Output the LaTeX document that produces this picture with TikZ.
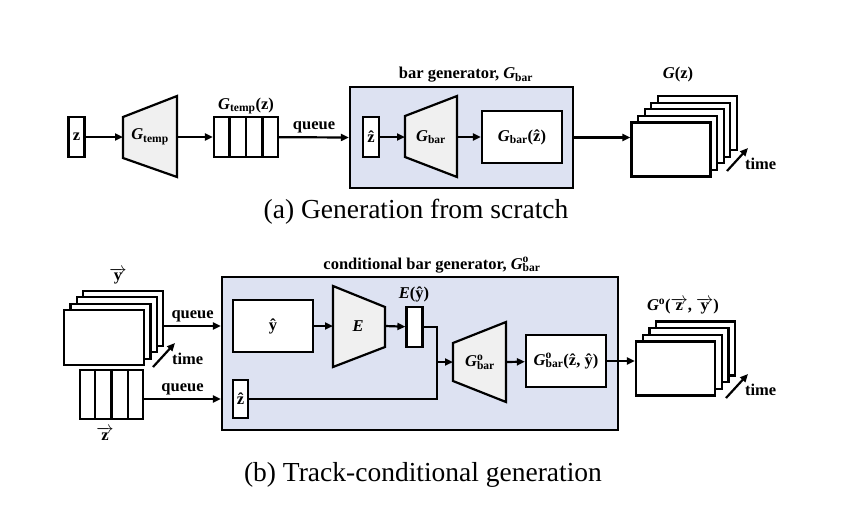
\documentclass[tikz,border=0pt]{standalone}
\usepackage{fontspec}
\setmainfont{Liberation Serif}
\usetikzlibrary{calc, arrows.meta}

\definecolor{genfill}{RGB}{221,226,242}
\definecolor{trapfill}{RGB}{240,240,240}

\newcommand{\Gsym}{\textbf{\textit{G}}}
\newcommand{\Gbar}{\Gsym\textsubscript{\textbf{bar}}}
\newcommand{\Gobar}{\Gsym\rlap{\textsuperscript{\textbf{o}}}\textsubscript{\textbf{bar}}}
\newcommand{\vecz}{$\overrightarrow{\mbox{\textbf{z}}}$}
\newcommand{\vecy}{$\overrightarrow{\mbox{\textbf{y}}}$}

\begin{document}
\begin{tikzpicture}
  [x=1pt, y=-1pt,
    >={Triangle[length=8pt,width=7pt]},
    line width=2.2pt,
    every node/.style={font=\fontsize{16.5}{19}\selectfont\bfseries}]

  \tikzset{
    latent/.style={
      rectangle, draw=black, fill=white,
      inner sep=0pt, minimum width=16pt, minimum height=40pt,
    },
    frame/.style={
      rectangle, draw=black, fill=white,
      inner sep=0pt, minimum width=79pt, minimum height=54pt,
    },
    genbox/.style={
      rectangle, draw=black, fill=genfill, inner sep=0pt,
    },
    trap/.style={draw=black, fill=trapfill, line join=miter},
    puis/.style={->, draw},
    timelabel/.style={anchor=west, inner sep=0pt, xshift=-4pt, yshift=-16pt},
    caption/.style={font=\fontsize{27.5}{32}\selectfont},
  }

  \useasboundingbox (0,0) rectangle (860,515);

  %% (a) generation from scratch
  \node[latent] (z) at (76.5,137) {z};

  \draw[trap] (123,117) -- (177,96) -- (177,177) -- (123,158) -- cycle;
  \node (gtemp) at (150,137) {\Gsym\textsubscript{\textbf{temp}}};
  \coordinate (gtemp-w) at (123,137);
  \coordinate (gtemp-e) at (177,137);

  \node[rectangle, draw, inner sep=0pt, minimum width=64pt, minimum height=40pt]
    (tq) at (246,137) {};
  \foreach \i in {1,2,3}
    \draw ($(tq.north west)!\i/4!(tq.north east)$) -- ($(tq.south west)!\i/4!(tq.south east)$);
  \node at (246,106) {\Gsym\textsubscript{\textbf{temp}}(z)};

  \node[genbox, minimum width=223pt, minimum height=101pt] (gen) at (461.5,137.5) {};
  \node at (466,75) {bar generator, \Gbar};

  \node[latent] (zhat) at (371,137) {\^{z}};
  \draw[trap] (405,116) -- (457,96) -- (457,177) -- (405,157) -- cycle;
  \node (gbar) at (431,137) {\Gbar};
  \coordinate (gbar-w) at (405,137);
  \coordinate (gbar-e) at (457,137);
  \node[rectangle, draw, fill=white, inner sep=0pt, minimum width=80pt, minimum height=52pt]
    (gbarz) at (522,137) {\Gbar(\^{z})};

  % stack of bars
  \foreach \k in {4,3,2,1,0}
    \node[frame] (gz\k) at ({671+6.6*\k},{149.5-6.6*\k}) {};
  \node at (678,75) {\Gsym(z)};
  \draw[->] (727,171) -- (748,148) node[timelabel] {time};

  \draw[puis] (z) -- (gtemp-w);
  \draw[puis] (gtemp-e) -- (tq);
  \draw[puis] (tq) -- node[above] {queue} (gen.west);
  \draw[puis] (zhat) -- (gbar-w);
  \draw[puis] (gbar-e) -- (gbarz);
  \draw[puis] (gen.east) -- (gen.east -| gz0.west);

  \node[caption] (capa) at (416,212) {(a) Generation from scratch};

  %% (b) track-conditional generation
  \foreach \k in {3,2,1,0}
    \node[frame, minimum width=80pt, minimum height=55pt] (ys\k) at ({104+6.4*\k},{337.5-6.4*\k}) {};
  \node[inner sep=0pt] at (118,276) {\vecy};
  \draw[->] (153,367) -- (175,343) node[timelabel] {time};

  \node[rectangle, draw, inner sep=0pt, minimum width=63pt, minimum height=49pt]
    (zq) at (111.5,394.5) {};
  \foreach \i in {1,2,3}
    \draw ($(zq.north west)!\i/4!(zq.north east)$) -- ($(zq.south west)!\i/4!(zq.south east)$);
  \node[inner sep=0pt] at (105,434) {\vecz};

  \node[genbox, minimum width=396pt, minimum height=153pt] (cgen) at (420,353.5) {};
  \node at (432,265) {conditional bar generator, \Gobar};

  \node[rectangle, draw, fill=white, inner sep=0pt, minimum width=80pt, minimum height=52pt]
    (yhat) at (273,326) {\^{y}};
  \draw[trap] (333,286) -- (385,307) -- (385,347) -- (333,367) -- cycle;
  \node (enc) at (358,326) {\textit{E}};
  \coordinate (enc-w) at (333,326);
  \coordinate (enc-e) at (385,326);
  \node[latent] (ey) at (414.5,327) {};
  \node at (414,294) {\textit{E}(\^{y})};
  \node[latent, minimum width=15pt, minimum height=38pt] (zhatb) at (240.5,399) {\^{z}};

  \coordinate (mrg) at (437,362);
  \draw[trap] (453,343) -- (506,322) -- (506,402) -- (453,381) -- cycle;
  \node (gob) at (480,362) {\Gobar};
  \coordinate (gob-w) at (453,362);
  \coordinate (gob-e) at (506,362);
  \node[rectangle, draw, fill=white, inner sep=0pt, minimum width=80pt, minimum height=52pt]
    (gobyz) at (566,361) {\Gobar(\^{z}, \^{y})};

  \foreach \k in {3,2,1,0}
    \node[frame] (os\k) at ({675.5+6.7*\k},{368.5-6.7*\k}) {};
  \node[inner sep=0pt] at (683,306) {\Gsym\textsuperscript{\textbf{o}}(\vecz, \vecy)};
  \draw[->] (726,398) -- (748,374) node[timelabel] {time};

  \draw[puis] (yhat -| ys3.east) -- node[above] {queue} (yhat -| cgen.west);
  \draw[puis] (zhatb -| zq.east) -- node[above] {queue} (zhatb -| cgen.west);
  \draw[puis] (yhat) -- (enc-w);
  \draw[puis] (enc-e) -- (ey);
  \draw (ey.east) -| (mrg);
  \draw (zhatb.east) -| (mrg);
  \draw[puis] (mrg) -- (gob-w);
  \draw[puis] (gob-e) -- (gobyz);
  \draw[puis] (gobyz) -- (gobyz -| os0.west);

  \node[caption] (capb) at (423,475) {(b) Track-conditional generation};
\end{tikzpicture}
\end{document}
